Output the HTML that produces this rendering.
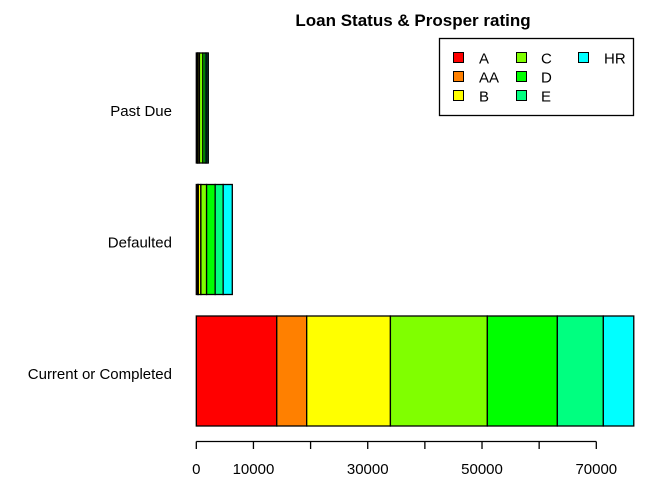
<!DOCTYPE html>
<html><head><meta charset="utf-8"><style>
body{margin:0;background:#fff}
svg{font-family:"Liberation Sans",Arial,sans-serif}
</style></head><body>
<svg id="chart" width="672" height="480">
<text x="413" y="26" text-anchor="middle" font-weight="bold" font-size="17">Loan Status &amp; Prosper rating</text>
<g id="bars"></g>
<g id="axis"></g>
<g id="legend"></g>
</svg>
<script>
const categories = ["Current or Completed", "Defaulted", "Past Due"];
const ratings = ["A", "AA", "B", "C", "D", "E", "HR"];
const colors = ["#FF0000", "#FF8000", "#FFFF00", "#80FF00", "#00FF00", "#00FF80", "#00FFFF"];
const currentValues = [14080, 5240, 14650, 16960, 12250, 8050, 5330];
const defaultedValues = [250, 100, 450, 1000, 1500, 1400, 1600];
const pastDueValues = [200, 100, 250, 600, 400, 300, 250];
const tickValues = [0, 10000, 20000, 30000, 40000, 50000, 60000, 70000];
const tickLabels = ["0", "10000", "", "30000", "", "50000", "", "70000"];

const NS = "http://www.w3.org/2000/svg";
const x = v => 196.3 + v * 400 / 70000;
const rowTop = [316, 184.5, 53];
const barH = 110;
const series = [currentValues, defaultedValues, pastDueValues];
const bars = document.getElementById("bars");
function mk(tag, attrs, parent){const e=document.createElementNS(NS,tag);for(const k in attrs)e.setAttribute(k,attrs[k]);parent.appendChild(e);return e;}
categories.forEach((cat, i) => {
  let acc = 0;
  series[i].forEach((v, j) => {
    const r = mk("rect", {x:x(acc), y:rowTop[i], width:x(acc+v)-x(acc), height:barH, fill:colors[j], stroke:"#000", "stroke-width":1.3}, bars);
    
    
    acc += v;
  });
  const t = mk("text", {x:172, y:rowTop[i]+barH/2+8, "text-anchor":"end", "font-size":15}, bars);
  t.textContent = cat;
  
  
});
const axis = document.getElementById("axis");
const al = mk("line", {x1:x(0), x2:x(70000), y1:441.5, y2:441.5, stroke:"#000", "stroke-width":1.3}, axis);


tickValues.forEach((v, i) => {
  const tk = mk("line", {x1:x(v), x2:x(v), y1:441.5, y2:449, stroke:"#000", "stroke-width":1.3}, axis);
  
  
  if (tickLabels[i]) {
    const t = mk("text", {x:x(v), y:474, "text-anchor":"middle", "font-size":15}, axis);
    t.textContent = tickLabels[i];
    
    
  }
});
const lg = document.getElementById("legend");
const box = mk("rect", {x:439.5, y:38.5, width:194, height:77, fill:"#fff", stroke:"#000", "stroke-width":1.3}, lg);


ratings.forEach((r, i) => {
  const col = Math.floor(i / 3), row = i % 3;
  const bx = [453.5, 516.5, 578.5][col];
  const tx = [479, 541, 604][col];
  const y = 52.5 + row * 19;
  const s = mk("rect", {x:bx, y:y, width:10, height:10, fill:colors[i], stroke:"#000", "stroke-width":1}, lg);
  
  
  const t = mk("text", {x:tx, y:y+11, "font-size":15}, lg);
  t.textContent = r;
  
  
});
</script>
</body></html>
